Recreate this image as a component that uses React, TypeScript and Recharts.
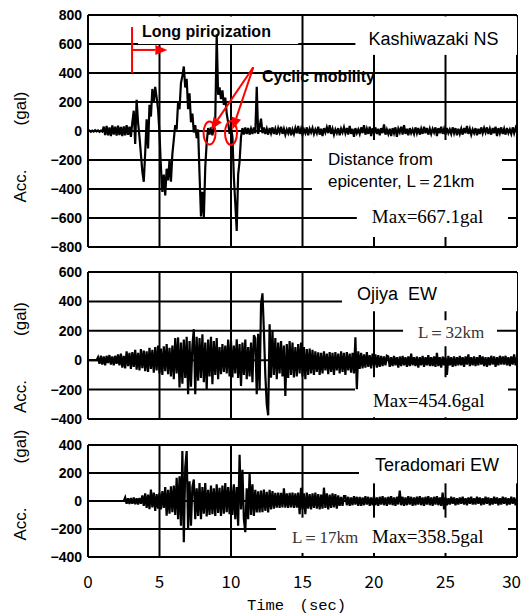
import React from 'react';
import {
  LineChart,
  Line,
  XAxis,
  YAxis,
  CartesianGrid,
  ReferenceArea,
  ReferenceLine,
  ReferenceDot,
  Label,
} from 'recharts';

// sampling step of the digitised records (sec)
const DT = 0.1;
const TIME_TICKS = [0, 5, 10, 15, 20, 25, 30];

const kashiwazakiTicks = [-800, -600, -400, -200, 0, 200, 400, 600, 800];
const ojiyaTicks = [-400, -200, 0, 200, 400, 600];
const teradomariTicks = [-400, -200, 0, 200, 400];

// one row = one second
const kashiwazakiNS = [
  0, 4, -5, 3, -4, 5, -3, 4, -5, 3,
  -4, 30, -28, 35, -30, 25, -35, 38, -25, 30,
  -32, 36, -28, 28, -35, 32, -30, 40, -26, 30,
  -40, 60, 140, -90, 215, 60, -40, -160, -280, -350,
  -150, 80, -120, 180, 100, 290, 200, 305, 230, 150,
  -20, -250, -420, -300, -445, -260, -340, -200, -350, -160,
  -60, 40, 10, 200, 150, 330, 380, 445, 300, 360,
  150, 260, 60, 120, -10, 40, -50, 10, -300, -590,
  -420, -600, -250, -80, 20, -25, 25, -30, 20, 80,
  667, 250, 300, 220, 280, 180, 230, 120, 60, -20,
  25, -40, -320, -500, -690, -300, -210, -40, 20, -25,
  25, -20, 20, -25, 15, -20, 25, -15, 305, -20,
  30, 85, -15, 25, -20, 15, -25, 20, -15, 25,
  -20, 15, -25, 20, -10, 30, -20, 15, -25, 10,
  -15, 25, -30, 10, -20, 20, -15, 35, -20, 15,
  -25, 10, -15, 25, -30, 15, -10, 20, -20, 10,
  -15, 30, -25, 15, -35, 20, -10, 25, -15, 40,
  -20, 15, -25, 10, -15, 20, -30, 15, -10, 25,
  -15, 20, -25, 35, -20, 15, -40, 20, -15, 10,
  -20, 25, -15, 40, -25, 15, -20, 30, -35, 20,
  -15, 25, -20, 15, -30, 20, -15, 45, -25, 10,
  -20, 15, -35, 20, -15, 25, -40, 15, -10, 30,
  -25, 40, -20, 15, -30, 20, -15, 10, -20, 25,
  -15, 20, -25, 15, -20, 30, -15, 20, -25, 15,
  -20, 15, -10, 25, -35, 20, -15, 30, -20, 15,
  -25, 20, -15, 10, -20, 25, -15, 20, -30, 15,
  -20, 15, -25, 20, -15, 35, -20, 15, -25, 10,
  -15, 20, -30, 15, -20, 25, -15, 20, -10, 25,
  -20, 15, -25, 20, -15, 30, -35, 20, -15, 25,
  -20, 15, -25, 20, -15, 10, -20, 25, -15, 20,
  -10,
];

const ojiyaEW = [
  0, 0, 0, 0, 0, 0, 0, 20, -25, 30,
  -30, 25, -35, 30, -20, 35, -30, 25, -35, 30,
  -25, 40, -35, 45, -50, 30, -55, 60, -40, 50,
  -60, 55, -45, 70, -65, 50, -70, 75, -55, 65,
  -75, 60, -80, 85, -60, 70, -85, 90, -70, 100,
  -90, 80, -100, 95, -75, 110, -95, 85, -110, 100,
  -130, 150, -90, 155, -186, 120, -160, 140, -120, 160,
  -232, 130, -180, 100, 211, -232, 160, -140, 150, -120,
  177, -150, 120, -198, 140, -110, 160, -164, 130, -100,
  150, -130, 90, -95, 110, -80, 100, -90, 140, -110,
  130, -118, 100, -90, 143, -120, 110, -175, 120, -100,
  140, -130, 90, -110, 120, -150, 170, 150, -232, 180,
  -200, 380, 455, 200, -100, -300, -375, 245, -120, 200,
  -100, 150, -130, 120, -90, 130, -110, 100, -243, 110,
  -120, 130, -100, 120, -118, 90, -110, 110, -90, 120,
  -110, 90, -129, 75, -100, 80, -90, 70, -100, 60,
  -80, 54, -100, 50, -90, 60, -70, 45, -95, 55,
  -80, 50, -100, 55, -70, 45, -90, 60, -80, 50,
  -100, 55, -70, 45, -85, 50, -90, 156, -197, 60,
  -60, 50, -55, 40, -50, 55, -45, 35, -55, 45,
  -40, 40, -50, 35, -45, 30, -40, 25, -35, 30,
  25, -45, 20, -40, 30, -35, 20, -50, 25, -40,
  30, -35, 20, -45, 25, -40, 45, -35, 20, -40,
  25, -50, 20, -35, 30, -45, 20, -35, 35, -40,
  20, -40, 25, -45, 50, -40, 20, -50, 25, -35,
  20, -100, 30, -35, 20, -45, 25, -40, 20, -35,
  30, -35, 20, -45, 25, -30, 40, -40, 20, -35,
  25, -40, 20, -35, 35, -30, 25, -40, 20, -45,
  20, -35, 30, -30, 25, -45, 20, -35, 30, -30,
  25, -30, 30, -35, 20, -40, 25, -30, 40, -35,
  20,
];

const teradomariEW = [
  0, 0, 0, 0, 0, 0, 0, 0, 0, 0,
  0, 0, 0, 0, 0, 0, 0, 0, 0, 0,
  0, 0, 0, 0, 0, 0, 25, -20, 20, -22,
  22, -20, 25, -23, 20, -25, 22, -20, 40, -35,
  55, -50, 45, -58, 82, -45, 60, -70, 50, -55,
  58, -60, 70, -50, 100, -105, 80, -90, 105, -80,
  110, -100, 165, -130, 176, -176, 357, -294, 240, 357,
  -200, 141, -176, 100, 153, -130, 90, -106, 129, -130,
  100, -90, 129, -110, 80, -100, 110, -95, 90, -106,
  120, -85, 95, -106, 110, -90, 129, -80, 100, -95,
  110, -100, 120, -130, 100, -176, 330, -60, 223, -130,
  -223, 90, -130, 200, -100, 120, -106, 80, -82, 70,
  -82, 75, -80, 82, -70, 65, -82, 80, -60, 70,
  -55, 58, -47, 60, -50, 58, -45, 90, -47, 55,
  -50, 58, -45, 60, -50, 55, -47, 60, -95, 95,
  -60, 55, -95, 60, -55, 50, -60, 55, -50, 60,
  -55, 50, -60, 45, -55, 95, -50, 55, -60, 45,
  -50, 55, -45, 50, -55, 40, -35, 30, -35, 35,
  35, -30, 30, -35, 25, -30, 35, -25, 30, -35,
  30, -35, 25, -30, 35, -25, 30, -35, 25, -30,
  35, -30, 25, -35, 30, -25, 35, -30, 25, -35,
  30, -25, 35, -30, 25, -35, 30, -25, 75, -30,
  30, -35, 25, -30, 35, -25, 30, -35, 25, -30,
  30, -25, 35, -30, 25, -35, 30, -25, 35, -30,
  25, -35, 30, -25, 35, -30, 25, -35, 60, -60,
  25, -30, 20, -25, 30, -20, 25, -30, 20, -25,
  25, -20, 30, -25, 20, -30, 25, -20, 30, -25,
  20, -25, 30, -20, 25, -30, 20, -25, 30, -20,
  25, -30, 20, -25, 30, -20, 25, -30, 20, -25,
  30, -20, 25, -30, 20, -25, 30, -20, 25, -30,
  20,
];

const FONT_SANS = '"Liberation Sans", Arial, Helvetica, sans-serif';
const FONT_SERIF = '"Liberation Serif", "Times New Roman", serif';
const FONT_MINCHO = '"Liberation Mono", "Noto Sans CJK JP", monospace';
const FONT_GOTHIC = '"Noto Sans CJK JP", "Liberation Sans", sans-serif';
const RED = '#ff0000';

type BoxNote = {
  text: string;
  dx: number;
  dy: number;
  size?: number;
  family?: string;
  weight?: string;
  color?: string;
};

// white Excel-style text box that hides the grid behind it
function boxShape(notes: BoxNote[]) {
  // eslint-disable-next-line @typescript-eslint/no-explicit-any
  return function TextBox(p: any) {
    return (
      <g>
        <rect x={p.x} y={p.y} width={p.width} height={p.height} fill="#fff" />
        {notes.map((n) => (
          <text
            key={n.text}
            x={p.x + n.dx}
            y={p.y + n.dy}
            fontSize={n.size ?? 18}
            fontFamily={n.family ?? FONT_SANS}
            fontWeight={n.weight ?? 'normal'}
            fill={n.color ?? '#000'}
            style={{ whiteSpace: 'pre' }}
          >
            {n.text}
          </text>
        ))}
      </g>
    );
  };
}

// eslint-disable-next-line @typescript-eslint/no-explicit-any
function RedArrow(p: any) {
  const { x1, y1, x2, y2 } = p;
  const ang = Math.atan2(y2 - y1, x2 - x1);
  const len = 12;
  const half = 5;
  const bx = x2 - len * Math.cos(ang);
  const by = y2 - len * Math.sin(ang);
  const s = Math.sin(ang);
  const c = Math.cos(ang);
  const pts = `${x2},${y2} ${bx - half * s},${by + half * c} ${bx + half * s},${by - half * c}`;
  return (
    <g>
      <line x1={x1} y1={y1} x2={bx} y2={by} stroke={RED} strokeWidth={2} />
      <polygon points={pts} fill={RED} />
    </g>
  );
}

function ellipseShape(rx: number, ry: number) {
  // eslint-disable-next-line @typescript-eslint/no-explicit-any
  return function RedEllipse(p: any) {
    return <ellipse cx={p.cx} cy={p.cy} rx={rx} ry={ry} fill="none" stroke={RED} strokeWidth={2} />;
  };
}

// eslint-disable-next-line @typescript-eslint/no-explicit-any
function CyclicNote(p: any) {
  return (
    <text x={p.cx} y={p.cy} fontSize={16} fontWeight="bold" fontFamily={FONT_SANS} fill="#000">
      Cyclic mobility
    </text>
  );
}

// eslint-disable-next-line @typescript-eslint/no-explicit-any
function AccLabel({ viewBox, shift = 0 }: any) {
  const cx = viewBox.x - 8;
  const cy = viewBox.y + viewBox.height / 2 + shift;
  return (
    <text
      transform={`translate(${cx},${cy}) rotate(-90)`}
      textAnchor="middle"
      dominantBaseline="central"
      fontFamily={FONT_SANS}
      fontSize={17}
      fill="#000"
    >
      <tspan>Acc.</tspan>
      <tspan dx={44}>(gal)</tspan>
    </text>
  );
}

// last label sits at the page edge, keep it inside
// eslint-disable-next-line @typescript-eslint/no-explicit-any
function TimeTick({ x, y, payload }: any) {
  const last = payload.value === TIME_TICKS[TIME_TICKS.length - 1];
  return (
    <text
      x={x}
      y={y}
      dy="0.71em"
      dx={last ? 4 : 0}
      textAnchor={last ? 'end' : 'middle'}
      fill="#000"
      fontSize={17}
      fontFamily={FONT_GOTHIC}
    >
      {payload.value}
    </text>
  );
}

const fmtAcc = (v: number) => (v < 0 ? `\u2212${-v}` : `${v}`);

type PanelProps = {
  values: number[];
  yTicks: number[];
  top: number;
  height: number;
  marginTop: number;
  marginBottom: number;
  labelShift: number;
  showTime?: boolean;
  boxes?: React.ReactNode;
  marks?: React.ReactNode;
};

function SeismoPanel({
  values,
  yTicks,
  top,
  height,
  marginTop,
  marginBottom,
  labelShift,
  showTime = false,
  boxes,
  marks,
}: PanelProps) {
  const rows = values.map((a, i) => ({ t: +(i * DT).toFixed(2), a }));
  return (
    <div style={{ position: 'absolute', left: 0, top, width: 522, height }}>
      <LineChart
        width={522}
        height={height}
        data={rows}
        margin={{ top: marginTop, right: 5, bottom: marginBottom, left: 28 }}
      >
        <CartesianGrid stroke="#000" strokeWidth={2} />
        <XAxis
          dataKey="t"
          type="number"
          domain={[0, 30]}
          ticks={TIME_TICKS}
          interval={0}
          hide={!showTime}
          height={showTime ? 57 : 0}
          axisLine={{ stroke: '#000', strokeWidth: 2 }}
          tickLine={false}
          tickSize={0}
          tickMargin={19}
          tick={<TimeTick />}
        >
          {showTime && (
            <Label
              value={'Time\u3000(sec)'}
              position="insideBottom"
              offset={4}
              dx={-6}
              fill="#000"
              fontSize={15.5}
              fontFamily={FONT_MINCHO}
            />
          )}
        </XAxis>
        <YAxis
          type="number"
          domain={[yTicks[0], yTicks[yTicks.length - 1]]}
          ticks={yTicks}
          interval={0}
          width={60}
          axisLine={{ stroke: '#000', strokeWidth: 2 }}
          tickLine={false}
          tickSize={0}
          tickMargin={6}
          tickFormatter={fmtAcc}
          tick={{ fill: '#000', fontSize: 14, fontWeight: 'bold', fontFamily: FONT_SANS }}
          label={<AccLabel shift={labelShift} />}
        />
        {boxes}
        <Line
          type="linear"
          dataKey="a"
          stroke="#000"
          strokeWidth={2.2}
          strokeLinejoin="miter"
          dot={false}
          isAnimationActive={false}
        />
        {marks}
      </LineChart>
    </div>
  );
}

export default function App() {
  return (
    <div
      style={{
        position: 'absolute',
        left: 0,
        top: 0,
        width: 522,
        height: 614,
        background: '#fff',
        overflow: 'hidden',
      }}
    >
      <SeismoPanel
        values={kashiwazakiNS}
        yTicks={kashiwazakiTicks}
        top={0}
        height={262}
        marginTop={15}
        marginBottom={15}
        labelShift={16}
        boxes={
          <>
            <ReferenceArea
              x1={3.5}
              x2={14.7}
              y1={600}
              y2={790}
              shape={boxShape([{ text: 'Long pirioization', dx: 4, dy: 21, size: 16, weight: 'bold' }])}
            />
            <ReferenceArea
              x1={18.7}
              x2={30}
              y1={525}
              y2={790}
              shape={boxShape([{ text: 'Kashiwazaki NS', dx: 13, dy: 28.5 }])}
            />
            <ReferenceArea
              x1={15.66}
              x2={28.95}
              y1={-510}
              y2={-62}
              shape={boxShape([
                { text: 'Distance from', dx: 16, dy: 25, size: 17 },
                { text: 'epicenter, L\uFF1D21km', dx: 16, dy: 47, size: 17 },
              ])}
            />
            <ReferenceArea
              x1={18.8}
              x2={29.37}
              y1={-731}
              y2={-510}
              shape={boxShape([{ text: 'Max=667.1gal', dx: 15, dy: 18.5, size: 19, family: FONT_SERIF }])}
            />
          </>
        }
        marks={
          <>
            <ReferenceLine
              segment={[
                { x: 3.08, y: 400 },
                { x: 3.08, y: 717 },
              ]}
              stroke={RED}
              strokeWidth={2}
            />
            <ReferenceLine
              segment={[
                { x: 3.08, y: 559 },
                { x: 5.55, y: 559 },
              ]}
              shape={RedArrow}
            />
            <ReferenceLine
              segment={[
                { x: 11.56, y: 440 },
                { x: 8.6, y: 10 },
              ]}
              shape={RedArrow}
            />
            <ReferenceLine
              segment={[
                { x: 11.56, y: 440 },
                { x: 10.1, y: 10 },
              ]}
              shape={RedArrow}
            />
            <ReferenceDot x={8.5} y={-14} shape={ellipseShape(6, 11.5)} />
            <ReferenceDot x={10.0} y={-14} shape={ellipseShape(6, 12)} />
            <ReferenceDot x={12.17} y={338} shape={CyclicNote} />
          </>
        }
      />
      <SeismoPanel
        values={ojiyaEW}
        yTicks={ojiyaTicks}
        top={255}
        height={180}
        marginTop={17}
        marginBottom={16}
        labelShift={12}
        boxes={
          <>
            <ReferenceArea
              x1={17.76}
              x2={30}
              y1={333}
              y2={592}
              shape={boxShape([{ text: 'Ojiya  EW', dx: 15, dy: 27 }])}
            />
            <ReferenceArea
              x1={22.03}
              x2={28.6}
              y1={95}
              y2={272}
              shape={boxShape([
                { text: 'L\uFF1D32km', dx: 15, dy: 18, size: 17, family: FONT_SERIF, color: '#333' },
              ])}
            />
            <ReferenceArea
              x1={18.67}
              x2={29.37}
              y1={-388}
              y2={-116}
              shape={boxShape([{ text: 'Max=454.6gal', dx: 18, dy: 30, size: 19, family: FONT_SERIF }])}
            />
          </>
        }
      />
      <SeismoPanel
        values={teradomariEW}
        yTicks={teradomariTicks}
        top={430}
        height={184}
        marginTop={15}
        marginBottom={0}
        labelShift={-16}
        showTime
        boxes={
          <>
            <ReferenceArea
              x1={18.95}
              x2={30}
              y1={126}
              y2={393}
              shape={boxShape([{ text: 'Teradomari EW', dx: 16, dy: 25.5 }])}
            />
            <ReferenceArea
              x1={13.15}
              x2={29.37}
              y1={-371}
              y2={-119}
              shape={boxShape([
                { text: 'L\uFF1D17km', dx: 16, dy: 25.5, size: 17, family: FONT_SERIF, color: '#333' },
                { text: 'Max=358.5gal', dx: 96, dy: 25.5, size: 19, family: FONT_SERIF },
              ])}
            />
          </>
        }
      />
    </div>
  );
}
